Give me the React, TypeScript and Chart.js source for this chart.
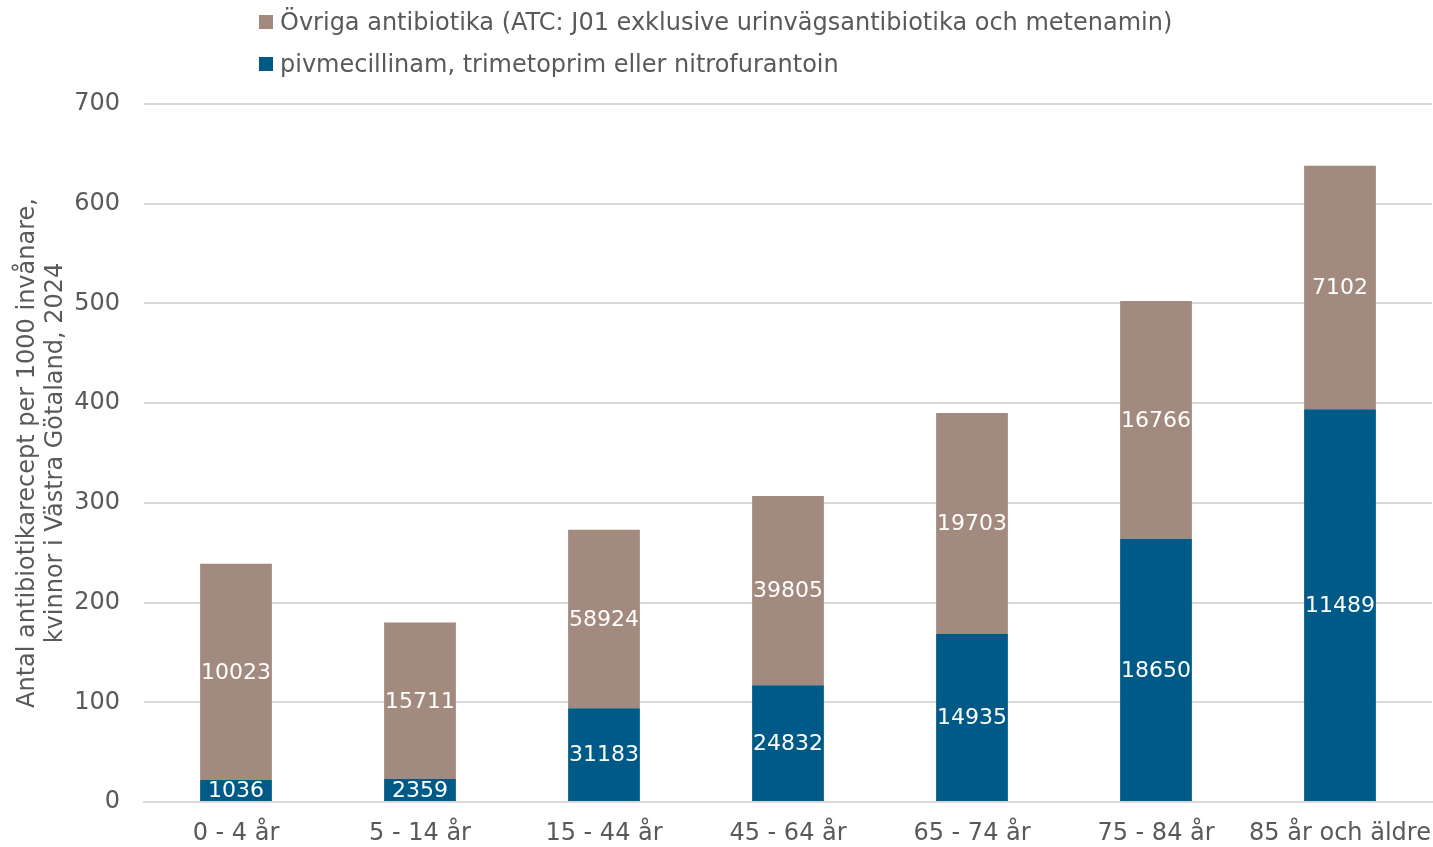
import React, { useEffect, useRef } from "react";
import { Chart, registerables } from "chart.js";

Chart.register(...registerables);

const categories = ["0 - 4 år", "5 - 14 år", "15 - 44 år", "45 - 64 år", "65 - 74 år", "75 - 84 år", "85 år och äldre"];
const urinaryRates = [22, 23, 94, 117, 168.5, 264, 394];
const otherRates = [217, 157, 179, 190, 221.5, 238.5, 244];
const urinaryCounts = ["1036", "2359", "31183", "24832", "14935", "18650", "11489"];
const otherCounts = ["10023", "15711", "58924", "39805", "19703", "16766", "7102"];
const yTicks = [0, 100, 200, 300, 400, 500, 600, 700];

const urinaryLabel = "pivmecillinam, trimetoprim eller nitrofurantoin";
const otherLabel = "Övriga antibiotika (ATC: J01 exklusive urinvägsantibiotika och metenamin)";
const yTitle = ["Antal antibiotikarecept per 1000 invånare,", "kvinnor i Västra Götaland, 2024"];

const BLUE = "#005A87";
const BROWN = "#A38A7E";
const TEXT = "#595959";
const FONT = "Verdana, 'DejaVu Sans', sans-serif";

const labelPlugin = {
  id: "segLabels",
  afterDatasetsDraw(chart: any) {
    const ctx = chart.ctx;
    const sets = [urinaryCounts, otherCounts];
    ctx.save();
    ctx.fillStyle = "#ffffff";
    ctx.font = `22px ${FONT}`;
    ctx.textAlign = "center";
    ctx.textBaseline = "middle";
    chart.data.datasets.forEach((_: any, di: number) => {
      const meta = chart.getDatasetMeta(di);
      meta.data.forEach((el: any, i: number) => {
        const y = (el.y + el.base) / 2;
        ctx.fillText(sets[di][i], el.x, y + 1);
      });
    });
    ctx.restore();
  },
};

export default function App() {
  const ref = useRef<HTMLCanvasElement | null>(null);
  useEffect(() => {
    document.body.style.margin = "0";
    const chart = new Chart(ref.current as HTMLCanvasElement, {
      type: "bar",
      data: {
        labels: categories,
        datasets: [
          { label: urinaryLabel, data: urinaryRates, backgroundColor: BLUE, barPercentage: 0.39, categoryPercentage: 1 },
          { label: otherLabel, data: otherRates, backgroundColor: BROWN, barPercentage: 0.39, categoryPercentage: 1 },
        ],
      },
      options: {
        responsive: false,
        animation: false,
        layout: { padding: { top: 104, right: 1, left: 0, bottom: 0 } },
        plugins: { legend: { display: false }, tooltip: { enabled: false } },
        scales: {
          x: {
            stacked: true,
            afterFit(scale: any) {
              scale.height = 45;
              scale.paddingLeft = 0;
              scale.paddingRight = 0;
            },
            grid: { display: false, drawTicks: false },
            border: { display: true, color: "#d9d9d9", width: 2 },
            ticks: { color: TEXT, font: { family: FONT, size: 24 }, padding: 17, maxRotation: 0, autoSkip: false },
          },
          y: {
            stacked: true,
            min: 0,
            max: 700,
            afterBuildTicks(scale: any) {
              scale.ticks = yTicks.map((v) => ({ value: v }));
            },
            afterFit(scale: any) {
              scale.width = 144;
            },
            grid: { color: "#d9d9d9", lineWidth: 2, drawTicks: false },
            border: { display: false },
            ticks: { color: TEXT, font: { family: FONT, size: 24 }, padding: 24 },
            title: {
              display: true,
              text: yTitle,
              color: TEXT,
              font: { family: FONT, size: 24 },
              padding: { top: 13, bottom: 0 },
            },
          },
        },
      },
      plugins: [labelPlugin],
    });
    return () => chart.destroy();
  }, []);

  const item = (color: string, text: string, top: number) => (
    <div style={{ position: "absolute", left: 259, top, display: "flex", alignItems: "center", fontFamily: FONT, fontSize: 24, color: TEXT, whiteSpace: "nowrap" }}>
      <span style={{ display: "inline-block", width: 14, height: 14, background: color, marginRight: 7 }} />
      <span>{text}</span>
    </div>
  );

  return (
    <div style={{ position: "relative", width: 1433, height: 847, background: "#fff" }}>
      <canvas ref={ref} width={1433} height={847} style={{ display: "block" }} />
      {item(BROWN, otherLabel, 8)}
      {item(BLUE, urinaryLabel, 50)}
    </div>
  );
}
